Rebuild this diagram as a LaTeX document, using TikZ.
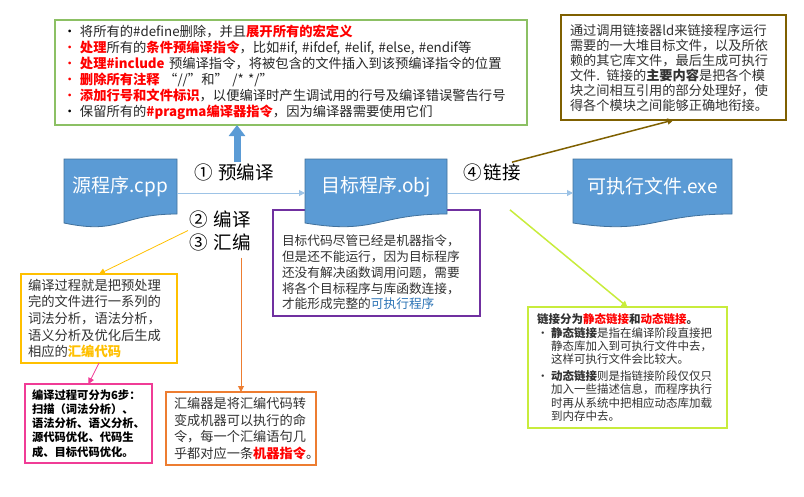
\documentclass[tikz,border=0pt]{standalone}
\usepackage{fontspec}
\setmainfont{Noto Sans CJK SC}
\usepackage{xcolor}
\usetikzlibrary{arrows.meta}
\usetikzlibrary{calc}
\definecolor{docBlue}{RGB}{91,155,213}
\definecolor{docEdge}{RGB}{65,113,156}
\definecolor{flowBlue}{RGB}{157,195,230}
\definecolor{noteText}{RGB}{50,50,50}
\definecolor{noteGreen}{RGB}{140,192,100}
\definecolor{noteBrown}{RGB}{127,96,0}
\definecolor{notePurple}{RGB}{112,48,160}
\definecolor{noteGold}{RGB}{255,192,0}
\definecolor{notePink}{RGB}{240,60,150}
\definecolor{noteOrange}{RGB}{237,125,49}
\definecolor{noteLime}{RGB}{200,236,60}
\definecolor{linkBlue}{RGB}{46,117,182}
\pgfdeclarelayer{frames}
\pgfdeclarelayer{docs}
\pgfsetlayers{frames,docs,main}
\newcommand{\redBold}[1]{\textcolor{red}{\textbf{#1}}}
\newcommand{\bulletMark}[1]{\makebox[17pt][l]{\textcolor{#1}{\textbullet}}}
\newcommand{\docShape}[1]{%
  \filldraw[docFill] (#1.north west) -- (#1.north east) -- (#1.south east)
    .. controls (#1.south) and ($(#1.south)+(0,21)$) .. ($(#1.south west)+(0,9)$) -- cycle;}
\tikzset{%
  % ---------
  % documents
  % ---------
  docNode/.style={rectangle, minimum width=#1, minimum height=55pt, inner sep=0pt, outer sep=0pt, text=white, font=\fontsize{19}{22}\selectfont},
  docFill/.style={fill=docBlue, draw=docEdge, line width=.8pt},
  flow/.style={draw=flowBlue, line width=1pt, -{Triangle[width=6pt,length=6pt]}},
  stepLabel/.style={align=left, inner sep=1pt, font=\fontsize{18.5}{23}\selectfont},
  bigArrow/.style={draw=docBlue, line width=7pt, -{Triangle[width=16pt,length=11pt]}},
  % -----
  % notes
  % -----
  note/.style={rectangle, draw=#1, fill=white, align=left, text=noteText, outer sep=0pt},
  noteLine/.style={draw=#1, -{Triangle[width=6pt,length=6pt]}}}

\begin{document}
\begin{tikzpicture}[x=1pt,y=-1pt]
  \useasboundingbox (0,0) rectangle (804,496);

  \node[docNode=113pt] (src) at (120.5,186.5) {源程序.cpp};
  \node[docNode=142pt] (obj) at (376,186.5) {目标程序.obj};
  \node[docNode=159pt] (exe) at (652.5,186.5) {可执行文件.exe};
  \begin{pgfonlayer}{docs}
    \docShape{src}
    \docShape{obj}
    \docShape{exe}
  \end{pgfonlayer}

  \node[stepLabel] (pre) at (234,172) {①\hspace{6pt}预编译};
  \node[stepLabel, anchor=west] (comp) at (188,230.5) {②\hspace{6pt}编译\\③\hspace{6pt}汇编};
  \node[stepLabel] (link) at (492,172) {④\hspace{2pt}链接};

  \node[note=noteGreen, line width=1.5pt, minimum width=472pt, minimum height=105pt, inner xsep=8pt, text width=456pt, text=black!85, font=\fontsize{13.3}{16}\selectfont] (notes) at (291,72.5) {%
    \bulletMark{black}将所有的\#define删除，并且\redBold{展开所有的宏定义}\\
    \bulletMark{red}\redBold{处理}所有的\redBold{条件预编译指令}，比如\#if, \#ifdef, \#elif, \#else, \#endif等\\
    \bulletMark{red}\redBold{处理\#include} 预编译指令，将被包含的文件插入到该预编译指令的位置\\
    \bulletMark{red}\redBold{删除所有注释} “//”和” /* */”\\
    \bulletMark{red}\redBold{添加行号和文件标识}，以便编译时产生调试用的行号及编译错误警告行号\\
    \bulletMark{black}保留所有的\redBold{\#pragma编译器指令}，因为编译器需要使用它们};

  \node[note=noteBrown, line width=2pt, minimum width=225pt, minimum height=105pt, inner xsep=9pt, text width=207pt, font=\fontsize{13.2}{15}\selectfont] (linkNote) at (673.5,67.5) {%
    通过调用链接器ld来链接程序运行\\
    需要的一大堆目标文件，以及所依\\
    赖的其它库文件，最后生成可执行\\
    文件. 链接的\textbf{主要内容}是把各个模\\
    块之间相互引用的部分处理好，使\\
    得各个模块之间能够正确地衔接。};

  \begin{pgfonlayer}{frames}
    \node[note=notePurple, line width=1.6pt, minimum width=207pt, minimum height=106pt, inner xsep=9pt, text width=189pt, font=\fontsize{12.7}{15.8}\selectfont] (objNote) at (376.5,263) {%
      \mbox{}\\[14pt]
      目标代码尽管已经是机器指令，\\
      但是还不能运行，因为目标程序\\
      还没有解决函数调用问题，需要\\
      将各个目标程序与库函数连接，\\
      才能形成完整的\textcolor{linkBlue}{可执行程序}};
  \end{pgfonlayer}

  \node[note=noteGold, line width=1.3pt, minimum width=156pt, minimum height=89pt, inner xsep=7pt, text width=142pt, font=\fontsize{13.3}{16.6}\selectfont] (compNote) at (99,318.5) {%
    编译过程就是把预处理\\
    完的文件进行一系列的\\
    词法分析，语法分析，\\
    语义分析及优化后生成\\
    相应的\textcolor{noteGold}{\textbf{汇编代码}}};

  \node[note=notePink, line width=2pt, minimum width=127pt, minimum height=79pt, inner xsep=7pt, text width=113pt, text=black, font=\fontsize{11.3}{14.2}\selectfont\bfseries] (steps) at (88.5,423.5) {%
    编译过程可分为6步：\\
    扫描（词法分析）、\\
    语法分析、语义分析、\\
    源代码优化、代码生\\
    成、目标代码优化。};

  \node[note=noteOrange, line width=1.3pt, minimum width=150pt, minimum height=73pt, inner xsep=8pt, text width=134pt, font=\fontsize{13.2}{16.7}\selectfont] (asmNote) at (241,428.5) {%
    汇编器是将汇编代码转\\
    变成机器可以执行的命\\
    令，每一个汇编语句几\\
    乎都对应一条\redBold{机器指令}。};

  \node[note=noteLime, line width=1.8pt, minimum width=199pt, minimum height=121pt, inner xsep=9pt, text width=181pt, font=\fontsize{11.5}{13.4}\selectfont] (linkTypes) at (627.5,367.5) {%
    \textbf{链接分为\textcolor{red}{静态链接}和\textcolor{red}{动态链接}。}\\
    \makebox[14pt][l]{\textbullet}\textbf{静态链接}是指在编译阶段直接把\\
    \hspace*{14pt}静态库加入到可执行文件中去，\\
    \hspace*{14pt}这样可执行文件会比较大。\\[3pt]
    \makebox[14pt][l]{\textbullet}\textbf{动态链接}则是指链接阶段仅仅只\\
    \hspace*{14pt}加入一些描述信息，而程序执行\\
    \hspace*{14pt}时再从系统中把相应动态库加载\\
    \hspace*{14pt}到内存中去。};

  \draw[flow] ([yshift=-6.5pt]src.east) -- ([yshift=-6.5pt]obj.west);
  \draw[flow] ([yshift=-6.5pt]obj.east) -- ([yshift=-6.5pt]exe.west);
  \draw[bigArrow] ([xshift=3pt]pre.north) -- ([xshift=3pt]pre.north |- notes.south);

  \draw[noteLine=noteGold, line width=.8pt] (comp.west) -- (compNote.north);
  \draw[noteLine=notePink, line width=.8pt] (compNote.south) -- (steps.north);
  \draw[noteLine=noteOrange, line width=1pt, shorten <=6pt] (asmNote.north |- comp.south) -- (asmNote.north);
  \draw[noteLine=noteBrown, line width=1.5pt] ([xshift=-10pt]link.north east) -- (linkNote.south);
  \draw[noteLine=noteLime, line width=1.5pt] ([xshift=-12pt,yshift=-28pt]link.south east) -- (linkTypes.north);
\end{tikzpicture}
\end{document}
